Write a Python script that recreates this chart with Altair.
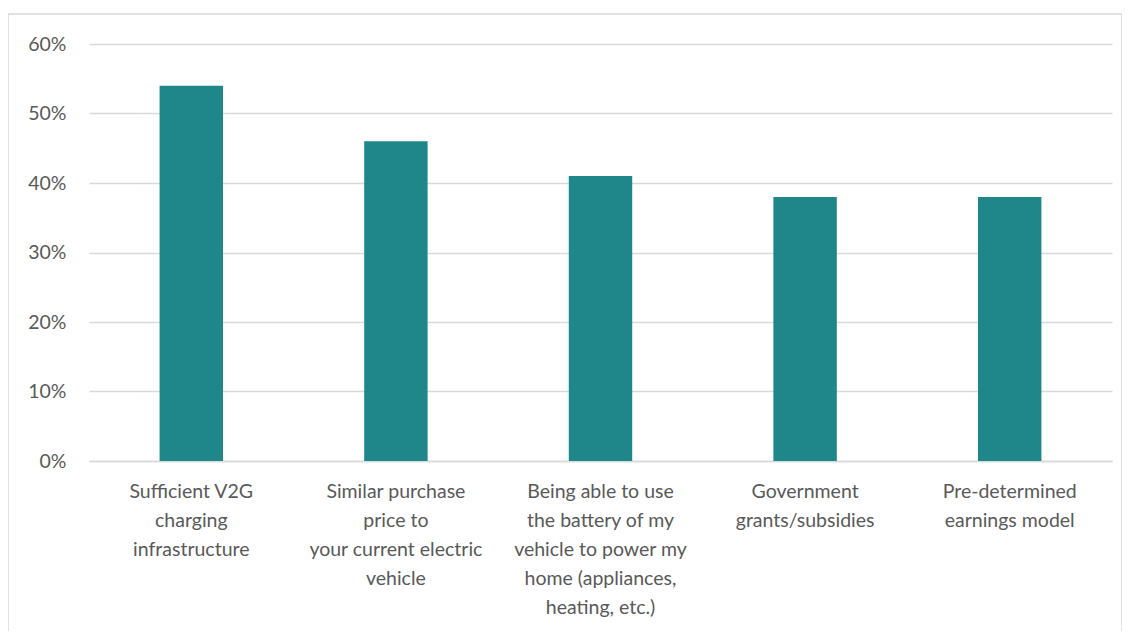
import altair as alt
import pandas as pd

categories = [
    "Sufficient V2G\ncharging\ninfrastructure",
    "Similar purchase\nprice to\nyour current electric\nvehicle",
    "Being able to use\nthe battery of my\nvehicle to power my\nhome (appliances,\nheating, etc.)",
    "Government\ngrants/subsidies",
    "Pre-determined\nearnings model",
]
values = [0.54, 0.46, 0.41, 0.38, 0.38]
y_ticks = [0, 0.1, 0.2, 0.3, 0.4, 0.5, 0.6]

df = pd.DataFrame({"cat": categories, "val": values})

FONT = "Lato"
GREY_TEXT = "#595959"
GRID = "#d9d9d9"

bars = alt.Chart(df).mark_bar(color="#1f8789").encode(
    x=alt.X(
        "cat:N",
        sort=None,
        title=None,
        scale=alt.Scale(paddingInner=0.69, paddingOuter=0.345),
        axis=alt.Axis(
            labelAngle=0,
            labelExpr="split(datum.label, '\\n')",
            labelFontSize=19.5,
            labelLineHeight=29,
            labelColor=GREY_TEXT,
            labelFont=FONT,
            labelPadding=21,
            labelLimit=400,
            ticks=False,
            grid=False,
            domainColor=GRID,
            domainWidth=1.5,
        ),
    ),
    y=alt.Y(
        "val:Q",
        title=None,
        scale=alt.Scale(domain=[0, 0.6], nice=False),
        axis=alt.Axis(
            values=y_ticks,
            format=".0%",
            labelFontSize=19.5,
            labelColor=GREY_TEXT,
            labelFont=FONT,
            labelPadding=23,
            ticks=False,
            domain=False,
            gridColor=GRID,
            gridWidth=1.5,
        ),
    ),
)

border = alt.Chart(pd.DataFrame({"a": [0]})).mark_rect(
    fill=None, stroke=GRID, strokeWidth=1.5
).encode(
    x=alt.value(-81), x2=alt.value(1033), y=alt.value(-30), y2=alt.value(600)
)

chart = (
    alt.layer(border, bars)
    .properties(
        width=1023,
        height=417,
        autosize=alt.AutoSizeParams(type="none"),
        padding={"left": 81, "top": 36, "right": 10, "bottom": 170},
    )
    .configure(background="white", view=alt.ViewConfig(stroke=None))
)

chart.save("out.html", embed_options={"renderer": "svg", "actions": False})
